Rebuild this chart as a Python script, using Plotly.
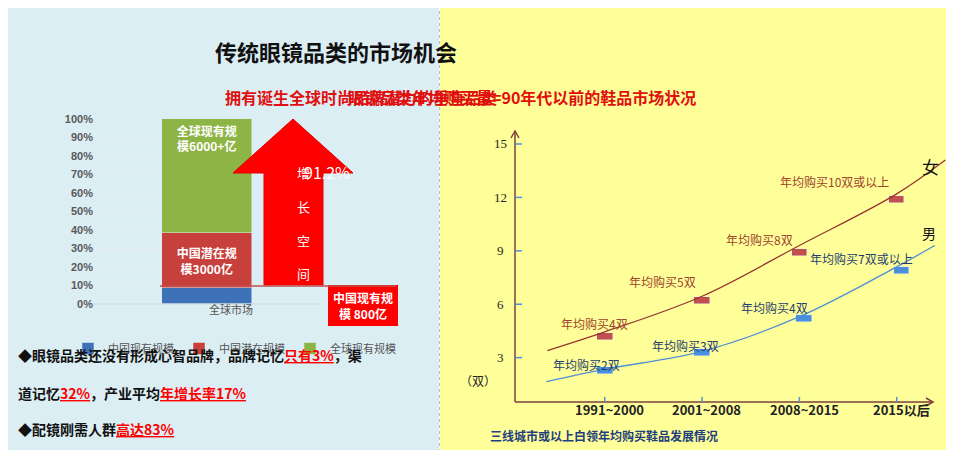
import plotly.graph_objects as go

# left chart: share of global market (%)
market_cat = ["全球市场"]
china_now = [8.8]
china_potential = [29.7]
global_now = [61.5]
growth_label = "91.2%"
pct_ticks = list(range(0, 101, 10))

# right chart: average pairs of shoes bought per year
periods = ["1991~2000", "2001~2008", "2008~2015", "2015以后"]
women_pairs = [4.2, 6.2, 8.9, 11.9]
men_pairs = [2.3, 3.3, 5.2, 7.9]
women_labels = ["年均购买4双", "年均购买5双", "年均购买8双", "年均购买10双或以上"]
men_labels = ["年均购买2双", "年均购买3双", "年均购买4双", "年均购买7双或以上"]
women_curve_x = [-0.59, 0, 1, 2, 3, 3.5]
women_curve_y = [3.4, 4.45, 6.45, 9.3, 12.2, 14.1]
men_curve_x = [-0.6, 0, 1, 2, 3, 3.39]
men_curve_y = [1.65, 2.35, 3.35, 5.3, 8.1, 9.3]
y_ticks = [3, 6, 9, 12, 15]

W, H = 954, 450
px = lambda x: x / W
py = lambda y: 1 - y / H

fig = go.Figure()

# left stacked bar
fig.add_trace(go.Bar(x=[0], y=china_now, name="中国现有规模", marker_color="#3d72b8", width=1.0))
fig.add_trace(go.Bar(x=[0], y=china_potential, name="中国潜在规模", marker_color="#c8403b", width=1.0,
                     text=["<b>中国潜在规<br>模3000亿</b>"], textposition="inside", insidetextanchor="middle",
                     textfont=dict(color="white", size=12, family="Noto Sans CJK SC")))
fig.add_trace(go.Bar(x=[0], y=global_now, name="全球现有规模", marker_color="#8db545", width=1.0,
                     text=["<b>全球现有规<br>模6000+亿</b>"], textposition="inside", insidetextanchor="end",
                     textfont=dict(color="white", size=12, family="Noto Sans CJK SC")))

# right chart curves and markers
fig.add_trace(go.Scatter(x=women_curve_x, y=women_curve_y, mode="lines", line=dict(color="#963634", width=1.3, shape="spline"),
                         xaxis="x2", yaxis="y2", showlegend=False))
fig.add_trace(go.Scatter(x=men_curve_x, y=men_curve_y, mode="lines", line=dict(color="#4f8fd6", width=1.3, shape="spline"),
                         xaxis="x2", yaxis="y2", showlegend=False))
xs = list(range(len(periods)))
fig.add_trace(go.Bar(x=xs, y=[0.4] * 4, base=[v - 0.2 for v in women_pairs], width=0.16,
                     marker_color="#c0504d", xaxis="x2", yaxis="y2", showlegend=False))
fig.add_trace(go.Bar(x=[x + 0.05 * (i >= 2) for i, x in enumerate(xs)], y=[0.4] * 4, base=[v - 0.2 for v in men_pairs],
                     width=0.16, marker_color="#4a8fdc", xaxis="x2", yaxis="y2", showlegend=False))

shapes = [
    dict(type="rect", xref="paper", yref="paper", x0=0, x1=px(431), y0=0, y1=1, fillcolor="#dbeef4", line_width=0, layer="below"),
    dict(type="rect", xref="paper", yref="paper", x0=px(432), x1=1, y0=0, y1=1, fillcolor="#ffff99", line_width=0, layer="below"),
    dict(type="line", xref="paper", yref="paper", x0=px(431.5), x1=px(431.5), y0=0, y1=1, line=dict(color="#bbbbbb", width=1, dash="dot")),
    # growth arrow
    dict(type="path", xref="paper", yref="paper", fillcolor="#ff0000", line=dict(color="#e00000", width=1),
         path=f"M {px(285)} {py(111)} L {px(345)} {py(165)} L {px(315)} {py(165)} L {px(315)} {py(277)} "
              f"L {px(256)} {py(277)} L {px(256)} {py(165)} L {px(225)} {py(165)} Z"),
    dict(type="rect", xref="paper", yref="paper", x0=px(320), x1=px(390), y0=py(318), y1=py(277), fillcolor="#ff0000", line_width=0),
    dict(type="line", xref="paper", yref="paper", x0=px(152), x1=px(388), y0=py(278), y1=py(278), line=dict(color="#c0504d", width=1.5)),
    dict(type="line", xref="paper", yref="paper", x0=px(86), x1=px(312), y0=py(296), y1=py(296), line=dict(color="#cfd8da", width=1)),
    # right axes
    dict(type="line", xref="paper", yref="paper", x0=px(507), x1=px(507), y0=py(394), y1=py(123), line=dict(color="#7f3f3f", width=1.5)),
    dict(type="line", xref="paper", yref="paper", x0=px(507), x1=px(925), y0=py(394), y1=py(394), line=dict(color="#7f3f3f", width=1.5)),
    dict(type="path", xref="paper", yref="paper", line=dict(color="#7f3f3f", width=1.5),
         path=f"M {px(503)} {py(130)} L {px(507)} {py(123)} L {px(511)} {py(130)}"),
    dict(type="path", xref="paper", yref="paper", line=dict(color="#7f3f3f", width=1.5),
         path=f"M {px(918)} {py(390)} L {px(925)} {py(394)} L {px(918)} {py(398)}"),
]
for v in y_ticks:
    shapes.append(dict(type="line", xref="paper", yref="y2", x0=px(507), x1=px(514), y0=v, y1=v, line=dict(color="#4f8fd6", width=1.5)))
for x in xs:
    shapes.append(dict(type="line", xref="x2", yref="paper", x0=x, x1=x, y0=py(394), y1=py(389), line=dict(color="#4f8fd6", width=1.5)))

ann = [
    dict(x=px(205), y=py(25), text="<b>传统眼镜品类的市场机会</b>", font=dict(size=22, color="#111")),
    dict(x=px(215), y=py(75), text="<b>拥有诞生全球时尚品牌潜力的垂直品类</b>", font=dict(size=16, color="#e01010")),
    dict(x=px(690), y=py(75), text="<b>眼镜品类年均购买量=90年代以前的鞋品市场状况</b>", font=dict(size=16, color="#e01010")),
    dict(x=px(712), y=py(438), text="<b>三线城市或以上白领年均购买鞋品发展情况</b>", font=dict(size=12, color="#1f3f7f")),
    dict(x=px(294), y=py(150), text=growth_label, font=dict(size=16, color="white")),
    dict(x=px(287), y=py(215), text="增<br><br>长<br><br>空<br><br>间", font=dict(size=13, color="white"), align="center"),
    dict(x=px(355), y=py(297), text="<b>中国现有规<br>模 800亿</b>", font=dict(size=12, color="white")),
    dict(x=px(199), y=py(311), text=market_cat[0], font=dict(size=11, color="#555")),
    dict(x=px(470), y=py(383), text="（双）", font=dict(size=12, color="#222")),
    dict(x=px(933), y=py(144), text="女", font=dict(size=17, color="#111", family="Noto Sans CJK SC")),
    dict(x=px(930), y=py(225), text="男", font=dict(size=14, color="#111", family="Noto Sans CJK SC")),
    dict(x=px(8), y=py(359), xanchor="left", font=dict(size=14, color="#111"),
         text="<b>◆眼镜品类还没有形成心智品牌，品牌记忆<span style='color:#ff0000'><u>只有3%</u></span>，渠</b>"),
    dict(x=px(8), y=py(397), xanchor="left", font=dict(size=14, color="#111"),
         text="<b>道记忆<span style='color:#ff0000'><u>32%</u></span>，产业平均<span style='color:#ff0000'><u>年增长率17%</u></span></b>"),
    dict(x=px(8), y=py(433), xanchor="left", font=dict(size=14, color="#111"),
         text="<b>◆配镜刚需人群<span style='color:#ff0000'><u>高达83%</u></span></b>"),
]
for a in ann:
    a.update(xref="paper", yref="paper", showarrow=False)
for v in y_ticks:
    ann.append(dict(xref="paper", yref="y2", x=px(493), y=v, text=str(v), showarrow=False,
                    font=dict(size=13, color="#222", family="Liberation Serif")))
for i, p in enumerate(periods):
    ann.append(dict(xref="x2", yref="paper", x=i + 0.05, y=py(413), text=f"<b>{p}</b>", showarrow=False,
                    font=dict(size=13, color="#222")))
w_shift = [(-10, 13), (-40, 19), (-40, 13), (-62, 18)]
m_shift = [(-18, 6), (-17, 7), (-25, 11), (-35, 12)]
for i in xs:
    ann.append(dict(xref="x2", yref="y2", x=i, y=women_pairs[i], text=women_labels[i], showarrow=False,
                    xshift=w_shift[i][0], yshift=w_shift[i][1], font=dict(size=12, color="#a0432f")))
    ann.append(dict(xref="x2", yref="y2", x=i, y=men_pairs[i], text=men_labels[i], showarrow=False,
                    xshift=m_shift[i][0], yshift=m_shift[i][1], font=dict(size=12, color="#1f3f6f")))

fig.update_layout(
    width=W, height=H, margin=dict(l=0, r=0, t=0, b=0, autoexpand=False),
    paper_bgcolor="white", plot_bgcolor="rgba(0,0,0,0)",
    font=dict(family="Noto Sans CJK SC"),
    barmode="stack", bargap=0,
    xaxis=dict(domain=[px(86), px(312)], range=[-1.25, 1.25], visible=False),
    yaxis=dict(domain=[py(296), py(111)], range=[0, 100], tickvals=pct_ticks,
               ticktext=[f"<b>{t}%</b>" for t in pct_ticks], automargin=False,
               showgrid=True, gridcolor="#e6eef0", zeroline=False, showline=False,
               tickfont=dict(size=11, color="#595959", family="Liberation Sans")),
    xaxis2=dict(domain=[px(480), px(950)], range=[-1.2, 3.63], visible=False, anchor="y2"),
    yaxis2=dict(domain=[py(410), py(110)], range=[-0.39, 16.46], visible=False, anchor="x2"),
    legend=dict(orientation="h", x=px(60), y=py(326), yanchor="top", traceorder="normal",
                font=dict(size=11, color="#555"), bgcolor="rgba(0,0,0,0)"),
    shapes=shapes, annotations=ann,
)
fig.write_html("out.html")
